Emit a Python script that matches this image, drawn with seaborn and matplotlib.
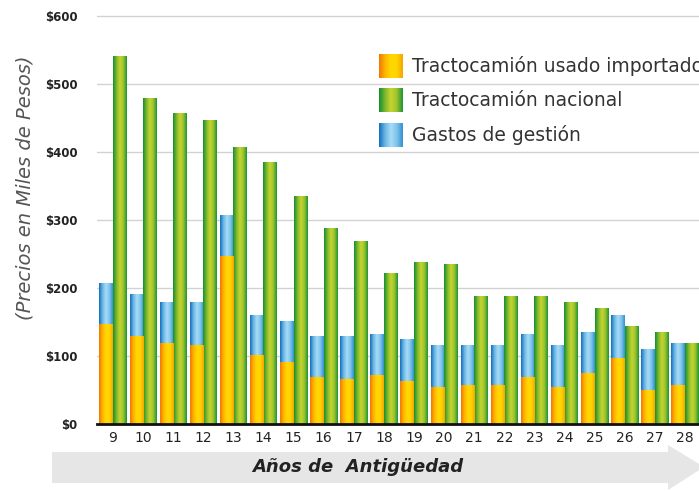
import matplotlib
matplotlib.use("Agg")
import matplotlib.pyplot as plt
from matplotlib.colors import LinearSegmentedColormap, to_rgba
from matplotlib.patches import Polygon
import numpy as np
import pandas as pd
import seaborn as sns

# datos (miles de pesos)
anios = [9, 10, 11, 12, 13, 14, 15, 16, 17, 18, 19, 20, 21, 22, 23, 24, 25, 26, 27, 28]
usado = [147, 129, 119, 116, 247, 100, 90, 68, 66, 71, 62, 54, 56, 56, 69, 54, 74, 97, 50, 56]
gastos = [60, 61, 60, 62, 60, 60, 60, 60, 62, 61, 62, 62, 60, 60, 62, 62, 61, 62, 60, 62]
nacional = [540, 478, 457, 446, 407, 385, 334, 287, 268, 221, 237, 235, 188, 188, 188, 179, 170, 144, 135, 119]

series = ["Tractocamión usado importado", "Tractocamión nacional", "Gastos de gestión"]
yticks = [0, 100, 200, 300, 400, 500, 600]

W, H = 699, 491

sns.set_theme(style="white")
plt.rcParams['font.family'] = ['DejaVu Sans']

# degradados horizontales de las barras
cm_naranja = LinearSegmentedColormap.from_list(
    "naranja", ["#F07800", "#FFB400", "#FFD800", "#FFD500", "#F6A400"])
cm_verde = LinearSegmentedColormap.from_list(
    "verde", ["#13902E", "#7DB72E", "#C6D52F", "#9CC32E", "#1C9532"])
cm_azul = LinearSegmentedColormap.from_list(
    "azul", ["#1270BC", "#6AB6E5", "#A8DCF5", "#7EC4EC", "#3690D1"])

base_colors = {"naranja": "#FFC000", "verde": "#6AB02E", "azul": "#60B0E0"}
cmaps = {"naranja": cm_naranja, "verde": cm_verde, "azul": cm_azul}


def px(x, y):
    # pixeles de la imagen -> fraccion de figura
    return x / W, 1 - y / H


def pintar_degradado(ax, patch, cmap, z):
    x0, y0 = patch.get_x(), patch.get_y()
    w, h = patch.get_width(), patch.get_height()
    patch.set_visible(False)
    if h <= 0:
        return
    grad = np.linspace(0, 1, 64).reshape(1, -1)
    ax.imshow(grad, cmap=cmap, extent=[x0, x0 + w, y0, y0 + h], aspect="auto",
              origin="lower", interpolation="bilinear", zorder=z)


def color_mas_cercano(fc):
    best, dist = None, 1e9
    for k, c in base_colors.items():
        d = np.sum((np.array(to_rgba(c)[:3]) - np.array(fc[:3])) ** 2)
        if d < dist:
            best, dist = k, d
    return best


fig = plt.figure(figsize=(W / 100, H / 100), dpi=100)
y_scale = 0.68  # px por unidad
ymax = 605
ax_left, ax_right = px(97, 0)[0], 1.0
ax_bottom = px(0, 424)[1]
ax_top = px(0, 424 - ymax * y_scale)[1]
ax = fig.add_axes([ax_left, ax_bottom, ax_right - ax_left, ax_top - ax_bottom])

labels = [str(a) for a in anios]
total_izq = [u + g for u, g in zip(usado, gastos)]

df_fondo = pd.DataFrame({
    "anio": labels * 2,
    "valor": total_izq + nacional,
    "lado": ["izq"] * len(anios) + ["der"] * len(anios),
})
df_frente = pd.DataFrame({
    "anio": labels * 2,
    "valor": usado + [0] * len(anios),
    "lado": ["izq"] * len(anios) + ["der"] * len(anios),
})

n0 = len(ax.patches)
sns.barplot(data=df_fondo, x="anio", y="valor", hue="lado", hue_order=["izq", "der"],
            order=labels, palette={"izq": base_colors["azul"], "der": base_colors["verde"]},
            dodge=True, width=0.9, saturation=1, errorbar=None, legend=False, ax=ax)
for p in list(ax.patches[n0:]):
    k = color_mas_cercano(p.get_facecolor())
    pintar_degradado(ax, p, cmaps[k], 2)

n1 = len(ax.patches)
sns.barplot(data=df_frente, x="anio", y="valor", hue="lado", hue_order=["izq", "der"],
            order=labels, palette={"izq": base_colors["naranja"], "der": base_colors["verde"]},
            dodge=True, width=0.9, saturation=1, errorbar=None, legend=False, ax=ax)
for p in list(ax.patches[n1:]):
    k = color_mas_cercano(p.get_facecolor())
    pintar_degradado(ax, p, cmaps[k], 3)

ax.set_xlim(-0.53, 19.47)
ax.set_ylim(0, ymax)
ax.set_yticks(yticks)
ax.set_yticklabels([f"${v}" for v in yticks], fontweight="bold", fontsize=8.5, color="#222222")
ax.tick_params(axis="y", length=0, pad=14)
ax.tick_params(axis="x", length=0, pad=5, labelsize=10, labelcolor="#222222")
ax.set_xlabel("")
ax.set_ylabel("")
ax.yaxis.grid(True, color="#D2D2D2", linewidth=1)
ax.set_axisbelow(True)
for s in ["top", "right", "left"]:
    ax.spines[s].set_visible(False)
ax.spines["bottom"].set_color("#111111")
ax.spines["bottom"].set_linewidth(2)
ax.spines["bottom"].set_zorder(5)

# etiqueta del eje y
fig.text(*px(25, 188), "(Precios en Miles de Pesos)", rotation=90, ha="center", va="center",
         fontsize=14, fontstyle="italic", color="#555555")

# leyenda manual con degradados
legend_rows = [(54, cm_naranja), (88, cm_verde), (123, cm_azul)]
grad = np.linspace(0, 1, 64).reshape(1, -1)
for (ytop, cm), texto in zip(legend_rows, series):
    x0, y0 = px(379, ytop + 24)
    sw = fig.add_axes([x0, y0, 24 / W, 24 / H])
    sw.imshow(grad, cmap=cm, aspect="auto", interpolation="bilinear")
    sw.set_axis_off()
    fig.text(*px(412, ytop + 12), texto, ha="left", va="center", fontsize=13.5, color="#333333")

# flecha de fondo con el titulo del eje x
flecha = Polygon([px(52, 452), px(668, 452), px(668, 445), px(704, 467),
                  px(668, 490), px(668, 483), px(52, 483)],
                 closed=True, transform=fig.transFigure, facecolor="#E6E6E6",
                 edgecolor="none", zorder=0)
fig.patches.append(flecha)
fig.text(*px(358, 467), "Años de  Antigüedad", ha="center", va="center", fontsize=13,
         fontweight="bold", fontstyle="italic", color="#222222")

fig.savefig("out.png", dpi=100)
